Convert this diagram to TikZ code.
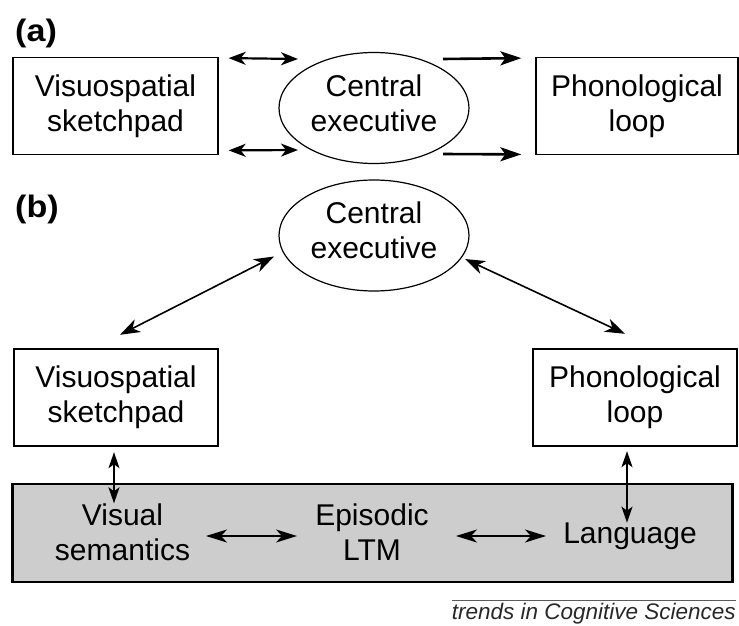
\documentclass[tikz,border=0pt]{standalone}
\usepackage{fontspec}
\setmainfont{Liberation Sans}
\usetikzlibrary{shapes.geometric,arrows.meta,calc}
\definecolor{storegray}{RGB}{205,205,205}
\definecolor{foottext}{RGB}{40,40,40}
\definecolor{footline}{RGB}{90,90,90}
\begin{document}
\begin{tikzpicture}[x=1pt,y=-1pt,
  txt/.style={font=\fontsize{30}{35}\selectfont, align=center, inner sep=0pt},
  boxa/.style={txt, draw, line width=1.3pt, minimum width=205pt, minimum height=97.5pt},
  boxb/.style={txt, draw, line width=2.4pt, minimum width=204pt, minimum height=97pt},
  ell/.style={txt, draw, ellipse, line width=1.2pt, minimum width=190pt, minimum height=111pt},
  panel/.style={font=\bfseries\fontsize{31}{35}\selectfont, inner sep=0pt, anchor=base west},
  arra/.style={line width=2.2pt, {Stealth[length=17pt,width=13pt,inset=5pt]}-{Stealth[length=17pt,width=13pt,inset=5pt]}},
  arrone/.style={line width=2.6pt, -{Stealth[length=21pt,width=14pt,inset=5pt]}},
  arrdiag/.style={line width=1.6pt, {Stealth[length=20pt,width=14pt,inset=6pt]}-{Stealth[length=20pt,width=14pt,inset=6pt]}},
  arrv/.style={line width=2pt, {Stealth[length=16pt,width=11pt,inset=4pt]}-{Stealth[length=16pt,width=11pt,inset=4pt]}},
  arrh/.style={line width=1.6pt, {Stealth[length=21pt,width=13pt,inset=6pt]}-{Stealth[length=21pt,width=13pt,inset=6pt]}}
]
\useasboundingbox (0,0) rectangle (739,626);

% ---------- (a) ----------
\node[panel] (la) at (15,41.5) {\scalebox{1.1}[1]{(a)}};
\node[boxa] (vsA) at (115.5,106) {Visuospatial\\sketchpad};
\node[ell] (ceA) at (374,108) {Central\\executive\rule[-10pt]{0pt}{0pt}};
\node[boxa, minimum width=202pt] (plA) at (637,106) {Phonological\\loop};

\draw[arra] ($(vsA.north east)+(10,1.5)$) -- ($(ceA.center)+(-76,-49)$);
\draw[arra] ($(vsA.south east)+(10,-5)$) -- ($(ceA.center)+(-76,42)$);
\draw[arrone] ($(ceA.center)+(69,-49)$) -- ($(plA.north west)+(-14,1.5)$);
\draw[arrone] ($(ceA.center)+(69,46)$) -- ($(plA.south west)+(-14,-1)$);

% ---------- (b) ----------
\node[panel] (lb) at (15,217.5) {\scalebox{1.1}[1]{(b)}};
\node[ell] (ceB) at (374,235.5) {Central\\executive\rule[-10pt]{0pt}{0pt}};
\node[boxb] (vsB) at (116,397.5) {Visuospatial\\sketchpad};
\node[boxb] (plB) at (635,397.5) {Phonological\\loop};

\draw[arrdiag] ($(vsB.north)+(4,-13)$) -- ($(ceB.center)+(-100,21)$);
\draw[arrdiag] ($(ceB.center)+(91,23.5)$) -- ($(plB.north)+(-10,-14)$);

% grey store
\node[draw, line width=2.8pt, fill=storegray,
      minimum width=720pt, minimum height=98pt, inner sep=0pt] (ltm) at (372.5,533) {};
\node[txt] (vis) at (122.5,532) {Visual\\semantics};
\node[txt] (epi) at (372,532.5) {Episodic\\LTM};
\node[txt, anchor=base] (lang) at (630,543.5) {Language};

\draw[arrv] ($(vsB.south)+(-2,5)$) coordinate (vs0) -- (vs0 |- vis.north);
\draw[arrv] ($(plB.south)+(-8,4)$) coordinate (pl0) -- (pl0 |- lang.north);
\draw[arrh] ($(vis.center)+(83.5,4)$) -- ($(epi.center)+(-75,3.5)$);
\draw[arrh] ($(epi.center)+(84,3.5)$) -- ($(lang.base)+(-84,-7.5)$);

% ---------- footer ----------
\node[font=\itshape\fontsize{22.5}{26}\selectfont, text=foottext,
      inner sep=0pt, anchor=base east] (foot) at (736,619) {trends in Cognitive Sciences};
\draw[line width=0.9pt, footline]
  ($(foot.base east)+(-284,-19)$) -- ($(foot.base east)+(0,-19)$);
\end{tikzpicture}
\end{document}
